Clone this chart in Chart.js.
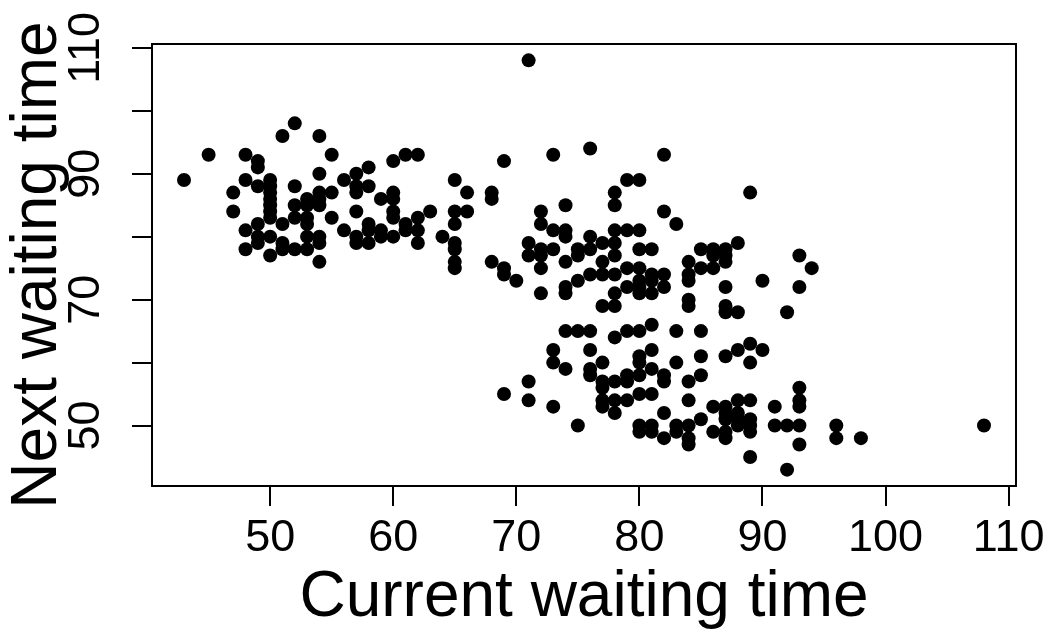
<!DOCTYPE html>
<html>
<head>
<meta charset="utf-8">
<title>Current vs next waiting time</title>
<script src="https://cdn.jsdelivr.net/npm/chart.js@4"></script>
<style>
    body { margin: 0; background: #fff; }
    #wrap { width: 1053px; height: 643px; }
</style>
</head>
<body>
<div id="wrap"><canvas id="scatter" width="1053" height="643"></canvas></div>
<script>
// waiting time before an eruption (x) and before the next one (y)
const currentWait = [
    51,54,45,48,49,49,43,48,50,52,47,49,50,50,54,54,53,50,52,53,54,47,50,52,53,50,49,51,53,48,49,50,49,53,54,48,51,51,52,53,50,54,52,50,
    55,56,57,58,57,58,57,55,54,60,61,62,59,60,60,57,55,60,60,63,62,61,62,62,58,58,59,60,59,56,57,57,58,61,64,65,66,65,66,65,65,65,65,65,54,
    69,73,76,68,68,79,80,78,78,74,72,72,73,74,74,78,79,80,76,77,78,78,71,71,72,73,72,75,76,75,80,68,69,69,70,72,74,77,77,76,78,79,80,79,75,74,74,72,77,78,78,80,80,
    82,89,82,83,81,85,86,87,88,86,87,84,85,86,87,84,84,81,82,80,81,82,81,87,90,93,94,93,84,84,87,88,92,
    74,75,76,78,79,73,76,73,74,76,76,77,80,80,77,78,79,79,77,71,69,71,73,77,77,78,79,78,80,75,80,80,
    87,81,80,83,85,81,83,85,87,88,89,90,89,81,82,82,80,84,85,81,84,82,85,86,87,88,89,87,88,87,88,89,91,93,93,93,81,81,82,83,83,84,84,84,86,87,87,88,89,89,91,92,93,93,89,92,
    96,96,98,108,71
];
const nextWait = [
    96,96,93,93,92,91,89,89,89,88,87,88,88,87,90,87,86,85,85,85,86,84,84,83,83,83,82,82,82,81,80,80,79,80,80,78,79,78,78,78,77,76,98,86,
    93,89,90,91,88,88,87,87,85,92,93,93,86,87,86,84,83,84,83,84,83,82,81,79,82,81,81,80,80,81,80,79,79,81,80,89,87,84,84,82,79,78,76,75,79,
    92,93,94,87,86,89,89,87,85,85,84,82,81,81,80,81,81,81,80,79,79,77,79,77,78,78,77,78,78,77,78,76,75,74,73,75,76,76,74,74,74,75,75,72,73,72,71,71,69,69,71,72,71,
    93,87,84,82,78,78,78,78,79,77,77,76,75,75,76,74,73,74,74,73,73,72,71,72,73,77,75,72,70,69,69,68,68,
    65,65,65,64,65,62,62,60,59,59,58,60,61,60,57,57,58,57,56,57,55,54,53,54,53,54,54,52,55,50,50,49,
    68,66,65,65,65,62,60,61,61,62,63,62,60,59,58,57,58,57,58,55,54,52,51,53,53,54,54,52,52,51,51,51,53,56,54,53,50,49,48,50,49,50,48,47,49,49,48,50,50,49,50,50,50,47,45,43,
    50,48,48,50,108
];

const xTicks = [50, 60, 70, 80, 90, 100, 110];
const yTicks = [50, 60, 70, 80, 90, 100, 110];
const yTickLabels = [50, 70, 90, 110];

const FONT = "'Liberation Sans', Arial, Helvetica, sans-serif";

// R style box round the plot area
const boxPlugin = {
    id: "box",
    afterDraw(chart) {
        const { ctx, chartArea: a } = chart;
        ctx.save();
        ctx.strokeStyle = "#000";
        ctx.lineWidth = 2;
        ctx.strokeRect(a.left, a.top, a.right - a.left, a.bottom - a.top);
        ctx.restore();
    }
};

new Chart(document.getElementById("scatter"), {
    type: "scatter",
    data: {
        datasets: [{
            data: currentWait.map((x, i) => ({ x: x, y: nextWait[i] })),
            backgroundColor: "#000",
            borderWidth: 0,
            pointRadius: 7,
            pointHoverRadius: 7
        }]
    },
    options: {
        responsive: false,
        animation: false,
        events: [],
        layout: { padding: { top: 44, right: 37, left: 0, bottom: 0 } },
        plugins: { legend: { display: false }, tooltip: { enabled: false } },
        scales: {
            x: {
                type: "linear",
                min: 40.4,
                max: 110.6,
                afterBuildTicks: s => { s.ticks = xTicks.map(v => ({ value: v })); },
                afterFit: s => { s.height = 157; },
                border: { display: false },
                grid: { drawOnChartArea: false, drawTicks: true, tickLength: 20, color: "#000", lineWidth: 2 },
                ticks: {
                    autoSkip: false, minRotation: 0, maxRotation: 0, padding: 6,
                    color: "#000", font: { family: FONT, size: 45 }
                },
                title: {
                    display: true, text: "Current waiting time", color: "#000",
                    font: { family: FONT, size: 64 }, padding: { top: 0, bottom: 6 }
                }
            },
            y: {
                type: "linear",
                min: 40.4,
                max: 110.6,
                afterBuildTicks: s => { s.ticks = yTicks.map(v => ({ value: v })); },
                afterFit: s => { s.width = 152; },
                border: { display: false },
                grid: { drawOnChartArea: false, drawTicks: true, tickLength: 20, color: "#000", lineWidth: 2 },
                ticks: {
                    autoSkip: false, minRotation: 90, maxRotation: 90, crossAlign: "center", padding: 10,
                    color: "#000", font: { family: FONT, size: 45 },
                    callback: v => yTickLabels.includes(v) ? String(v) : ""
                },
                title: {
                    display: true, text: "Next waiting time", color: "#000",
                    font: { family: FONT, size: 64 }, padding: { top: 0, bottom: 0 }
                }
            }
        }
    },
    plugins: [boxPlugin]
});
</script>
</body>
</html>
